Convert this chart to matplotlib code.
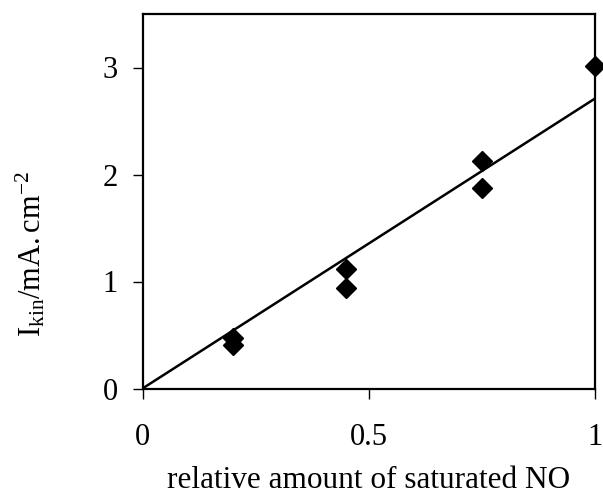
import matplotlib
matplotlib.use("Agg")
import matplotlib.pyplot as plt
import numpy as np

plt.rcParams["font.family"] = ["Liberation Serif", "DejaVu Serif"]
plt.rcParams["mathtext.fontset"] = "custom"
plt.rcParams["mathtext.rm"] = "Liberation Serif"
plt.rcParams["mathtext.it"] = "Liberation Serif:italic"

# measured points
no_fraction = [0.2, 0.2, 0.45, 0.45, 0.75, 0.75, 1.0]
i_kin = [0.47, 0.41, 1.12, 0.94, 2.13, 1.87, 3.01]

# linear fit through origin as drawn
fit_x = [0.0, 1.0]
fit_y = [0.0, 2.71]

fig = plt.figure(figsize=(6.03, 4.95), dpi=100)
ax = fig.add_axes([142.5 / 603, 1 - 388.5 / 495, 452.5 / 603, 374.5 / 495])

ax.plot(fit_x, fit_y, color="black", lw=1.8, solid_capstyle="butt")
ax.plot(no_fraction, i_kin, ls="none", marker="D", ms=10, color="black",
        clip_on=False)

ax.set_xlim(0, 1)
ax.set_ylim(0, 3.5)
ax.set_xticks([0, 0.5, 1])
ax.set_xticklabels(["0", "0.5", "1"])
ax.set_yticks([0, 1, 2, 3])
ax.set_yticklabels(["0", "1", "2", "3"])

for sp in ax.spines.values():
    sp.set_linewidth(1.6)
ax.tick_params(direction="out", length=7, width=1, labelsize=22)
ax.tick_params(axis="x", pad=18)
ax.tick_params(axis="y", pad=11)

ax.set_xlabel("relative amount of saturated NO", fontsize=22.5, labelpad=10)
ax.set_ylabel(r"$\mathregular{I_{kin}/mA.cm^{-2}}$", fontsize=22)
ax.yaxis.set_label_coords(-0.21, 0.36)

fig.savefig("out.png", dpi=100)
